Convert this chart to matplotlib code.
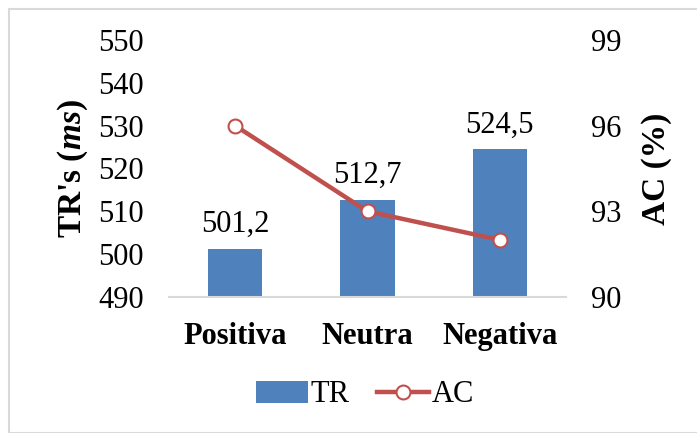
import matplotlib
matplotlib.use("Agg")
import matplotlib.pyplot as plt
from matplotlib.lines import Line2D
from matplotlib.patches import Patch, Rectangle

plt.rcParams['font.family'] = ['Liberation Serif', 'DejaVu Serif']
plt.rcParams['mathtext.fontset'] = 'custom'
plt.rcParams['mathtext.rm'] = 'Liberation Serif'
plt.rcParams['mathtext.it'] = 'Liberation Serif:italic'
plt.rcParams['mathtext.bf'] = 'Liberation Serif:bold'
plt.rcParams['mathtext.bfit'] = 'Liberation Serif:italic:bold'

categories = ["Positiva", "Neutra", "Negativa"]
tr_values = [501.2, 512.7, 524.5]
ac_values = [96, 93, 92]
tr_labels = ["501,2", "512,7", "524,5"]
left_ticks = [490, 500, 510, 520, 530, 540, 550]
right_ticks = [90, 93, 96, 99]

bar_color = "#4F81BD"
line_color = "#C0504D"
fs = 22

fig = plt.figure(figsize=(6.97, 4.33), dpi=100)
fig.patches.append(Rectangle((9 / 697, 0), 1.0, 1 - 9 / 433, transform=fig.transFigure,
                             fill=False, edgecolor="#D9D9D9", linewidth=1.5))

ax = fig.add_axes([169 / 697, 1 - 297 / 433, (566 - 169) / 697, (297 - 40) / 433])
x = list(range(len(categories)))
ax.bar(x, tr_values, width=0.41, color=bar_color, zorder=2)
ax.set_ylim(490, 550)
ax.set_xlim(-0.5, 2.5)
ax.set_yticks(left_ticks)
ax.set_yticklabels([str(t) for t in left_ticks], fontsize=fs)
ax.set_xticks(x)
ax.set_xticklabels(categories, fontsize=fs, fontweight="bold")
ax.tick_params(axis="both", length=0)
ax.tick_params(axis="y", pad=18)
ax.tick_params(axis="x", pad=18)
for s in ["top", "right", "left"]:
    ax.spines[s].set_visible(False)
ax.spines["bottom"].set_color("#D9D9D9")
ax.spines["bottom"].set_linewidth(1.5)

for xi, v, lab in zip(x, tr_values, tr_labels):
    ax.annotate(lab, (xi, v), xytext=(0, 7), textcoords="offset points",
                ha="center", va="bottom", fontsize=fs)

ax.set_ylabel(r"TR's ($\mathbfit{ms}$)", fontsize=24, fontweight="bold", labelpad=6)

ax2 = ax.twinx()
ax2.plot(x, ac_values, color=line_color, linewidth=3.2, marker="o", markersize=10,
         markerfacecolor="white", markeredgecolor=line_color, markeredgewidth=1.5, zorder=3)
ax2.set_ylim(90, 99)
ax2.set_yticks(right_ticks)
ax2.set_yticklabels([str(t) for t in right_ticks], fontsize=fs)
ax2.tick_params(axis="y", length=0, pad=18)
for s in ["top", "right", "left", "bottom"]:
    ax2.spines[s].set_visible(False)
ax2.set_ylabel("AC (%)", fontsize=24, fontweight="bold", labelpad=14)

handles = [Patch(facecolor=bar_color, edgecolor="none"),
           Line2D([0], [0], color=line_color, linewidth=3.2, marker="o", markersize=10,
                  markerfacecolor="white", markeredgecolor=line_color, markeredgewidth=1.5)]
fig.legend(handles, ["TR", "AC"], loc="center", bbox_to_anchor=(365 / 697, 1 - 395 / 433),
           ncol=2, frameon=False, fontsize=fs, handlelength=1.7, handletextpad=0.1,
           columnspacing=0.9)

fig.savefig("out.png", dpi=100)
